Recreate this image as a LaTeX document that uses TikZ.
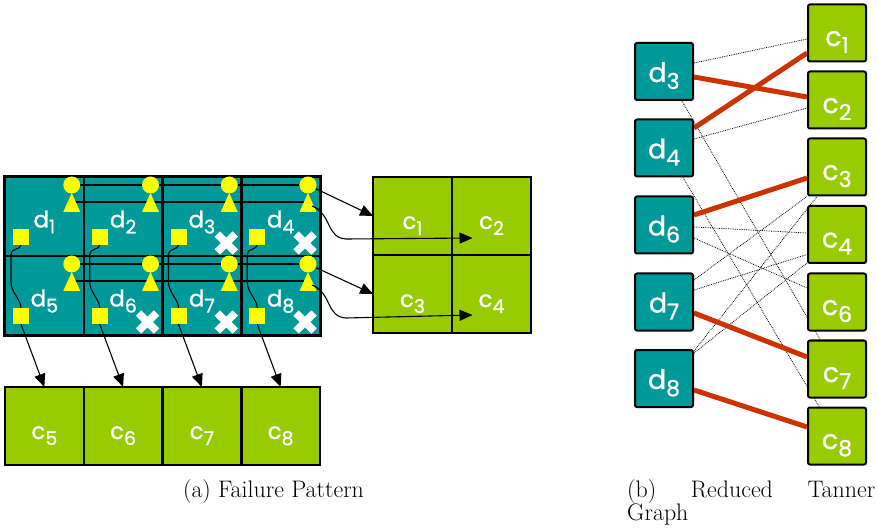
\documentclass[tikz,border=0pt]{standalone}
\usepackage{fontspec}
\newfontfamily\labfont{Poppins}[FakeBold=1.2]
\usetikzlibrary{arrows.meta,calc}
\definecolor{tealfill}{HTML}{009999}
\definecolor{limefill}{HTML}{99CC00}
\definecolor{edgered}{HTML}{CC3300}
\definecolor{ylw}{HTML}{FFFF00}

\pgfdeclarelayer{cells}
\pgfdeclarelayer{wires}
\pgfsetlayers{cells,wires,main}

% lowered index digits for the node labels
\newcommand\subL[1]{\raisebox{-6bp}{\fontsize{19}{19}\selectfont #1}}
\newcommand\subR[1]{\raisebox{-7bp}{\fontsize{22}{22}\selectfont #1}}

\tikzset{
  gridcell/.style={draw=black, line width=2.5bp, inner sep=0pt, outer sep=0pt,
                   minimum width=78.75bp, minimum height=79bp},
  dcell/.style={gridcell, fill=tealfill},
  ccell/.style={gridcell, fill=limefill, minimum height=78bp},
  lblL/.style={text=white, inner sep=0pt, anchor=base, font=\labfont\fontsize{23}{23}\selectfont},
  lblR/.style={text=white, inner sep=0pt, anchor=base, font=\labfont\fontsize{27}{27}\selectfont},
  ydot/.style={circle, fill=ylw, inner sep=0pt, minimum size=17bp},
  ysq/.style={rectangle, fill=ylw, inner sep=0pt, minimum size=16bp},
  wire/.style={black, line width=1.1bp},
  arr/.style={wire, -{Triangle[length=13bp,width=11bp]}},
  cross/.style={white, line width=7.5bp},
  dbox/.style={draw=black, line width=2bp, rounded corners=2bp, fill=tealfill,
               minimum width=58bp, minimum height=57bp, inner sep=0pt},
  cbox/.style={dbox, fill=limefill},
  tie/.style={edgered, line width=5bp},
  link/.style={black, line width=0.8bp, densely dotted},
  caption/.style={inner sep=0pt, font=\fontsize{24}{28}\selectfont},
}

\begin{document}
\begin{tikzpicture}[x=1bp, y=-1bp]
\useasboundingbox (0,0) rectangle (877,528);

% ---------- (a) failure pattern: data array ----------
\begin{pgfonlayer}{cells}
  \foreach \i/\c/\r in {1/0/0,2/1/0,3/2/0,4/3/0,5/0/1,6/1/1,7/2/1,8/3/1} {
    \node[dcell] (d\i) at ({5+78.75*\c+39.375}, {177+79*\r+39.5}) {};
  }
  \draw[line width=3bp] (d1.north west) rectangle (d8.south east);
  % parity cells
  \node[ccell] (c1) at (412.5,216) {};
  \node[ccell] (c2) at (491.5,216) {};
  \node[ccell] (c3) at (412.5,294) {};
  \node[ccell] (c4) at (491.5,294) {};
  \foreach \k in {5,6,7,8} {
    \node[ccell] (c\k) at ({44.375+78.75*(\k-5)}, 426) {};
  }
\end{pgfonlayer}

% check symbols in every data cell
\foreach \i/\c/\r in {1/0/0,2/1/0,3/2/0,4/3/0,5/0/1,6/1/1,7/2/1,8/3/1} {
  \node[ydot] (o\i) at ({5+78.75*\c+66.75}, {177+79*\r+8}) {};
  \coordinate (t\i) at ({5+78.75*\c+66.75}, {177+79*\r+25});
  \fill[ylw] ($(t\i)+(0,-9)$) -- ($(t\i)+(-8.5,10)$) -- ($(t\i)+(8.5,10)$) -- cycle;
  \node[ysq] (s\i) at ({5+78.75*\c+16}, {177+79*\r+60}) {};
  \node[lblL] (n\i) at ($(d\i.center)+(0,11)$) {d\subL{\i}};
}
\foreach \k in {1,2,3,4,5,6,7,8} {
  \node[lblL] (m\k) at ($(c\k.center)+(0,13)$) {c\subL{\k}};
}

% row and column wiring
\begin{pgfonlayer}{wires}
  \draw[wire] (o1) -- (o4);
  \draw[wire] (t1) -- (t4);
  \draw[wire] (o5) -- (o8);
  \draw[wire] (t5) -- (t8);
  \foreach \a/\b in {1/5,2/6,3/7,4/8} {
    \draw[wire] (s\a.south) .. controls +(-1,5) and +(0,-6) .. ++(-10,9)
      -- ++(0,28) .. controls +(0,10) and +(0,-8) .. (s\b.north);
  }
\end{pgfonlayer}

\foreach \a in {5,6,7,8} {
  \draw[arr] (s\a.south) -- (c\a.north);
}
\draw[arr] (o4) -- (c1.west);
\draw[arr] (o8) -- (c3.west);
\draw[arr] ($(t4)+(4,4)$) .. controls +(20,8) and +(-20,-1) .. ++(34,33)
  -- ($(c2.center)+(-19,22)$);
\draw[arr] ($(t8)+(4,4)$) .. controls +(20,8) and +(-20,-1) .. ++(34,33)
  -- ($(c4.center)+(-19,21)$);

% failed cells
\foreach \i in {3,4,6,7,8} {
  \draw[cross] ($(d\i.south east)+(-24,-22)$) -- ++(18,18);
  \draw[cross] ($(d\i.south east)+(-24,-4)$) -- ++(18,-18);
}

% ---------- (b) reduced Tanner graph ----------
\foreach \n/\y in {3/71.5,4/148,6/225,7/302,8/378.5} {
  \node[dbox] (D\n) at (664,\y) {};
  \node[lblR] (L\n) at ($(D\n.center)+(0,10.5)$) {d\subR{\n}};
}
\foreach \n/\y in {1/33,2/100,3/167,4/234.5,6/302,7/369,8/436} {
  \node[cbox] (C\n) at (837,\y) {};
  \node[lblR] (K\n) at ($(C\n.center)+(0,13)$) {c\subR{\n}};
}

\begin{pgfonlayer}{wires}
  \draw[link] ($(D3.east)+(0,-8.5)$) -- ($(C1.west)+(0,6)$);
  \draw[link] ($(D4.east)+(0,-9)$) -- ($(C2.west)+(0,8)$);
  \draw[link] ($(D3.south)+(18,0)$) -- ($(C7.north)+(-17,0)$);
  \draw[link] ($(D4.south)+(19,0)$) -- ($(C8.north)+(-18,0)$);
  \draw[link] ($(D6.east)+(0,2)$) -- ($(C4.west)+(0,-1.5)$);
  \draw[link] ($(D6.east)+(0,13)$) -- ($(C6.west)+(0,-14)$);
  \draw[link] ($(D7.east)+(0,-22)$) -- (C3.south west);
  \draw[link] ($(D7.east)+(0,-12)$) -- ($(C4.west)+(0,20)$);
  \draw[link] ($(D8.north east)+(0,2)$) -- ($(C3.south)+(-20,0)$);
  \draw[link] ($(D8.north east)+(0,4)$) -- ($(C4.south west)+(0,-1)$);

  \draw[tie] ($(D3.east)+(0,5.5)$) -- ($(C2.west)+(0,-3)$);
  \draw[tie] ($(D4.east)+(0,-20)$) -- ($(C1.west)+(0,20)$);
  \draw[tie] ($(D6.east)+(0,-10)$) -- ($(C3.west)+(0,11)$);
  \draw[tie] ($(D7.east)+(0,11)$) -- ($(C7.west)+(0,-12)$);
  \draw[tie] ($(D8.east)+(0,11.5)$) -- ($(C8.west)+(0,-9)$);
\end{pgfonlayer}

% ---------- captions ----------
\node[caption, anchor=base] (capA) at (273.5,497) {(a)\ Failure Pattern};
\node[caption, anchor=base west] (capB) at (627,497)
  {\makebox[248bp][s]{(b) Reduced Tanner}};
\node[caption, anchor=base west] (capC) at (627,520) {Graph};
\end{tikzpicture}
\end{document}
